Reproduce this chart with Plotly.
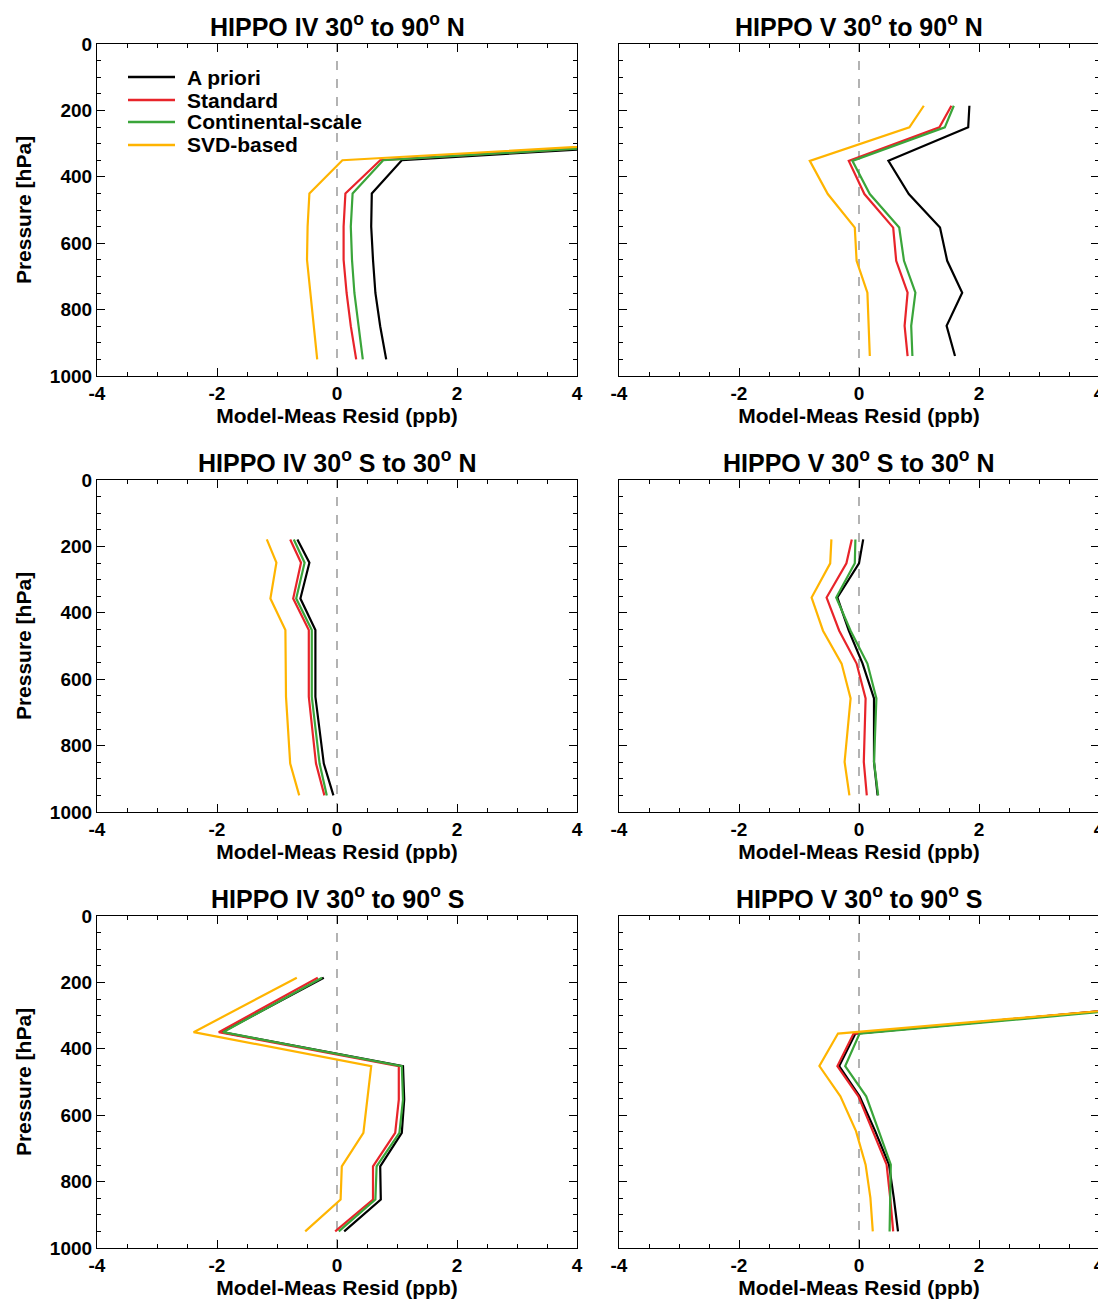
import plotly.graph_objects as go

def P(ys):
    return [round((y - 10) * 1000 / 995) for y in ys]

names = ["A priori", "Standard", "Continental-scale", "SVD-based"]
colors = ["black", "#e8242a", "#3aa53a", "#ffb400"]

titles = ["HIPPO IV 30<sup>o</sup> to 90<sup>o</sup> N", "HIPPO V 30<sup>o</sup> to 90<sup>o</sup> N",
          "HIPPO IV 30<sup>o</sup> S to 30<sup>o</sup> N", "HIPPO V 30<sup>o</sup> S to 30<sup>o</sup> N",
          "HIPPO IV 30<sup>o</sup> to 90<sup>o</sup> S", "HIPPO V 30<sup>o</sup> to 90<sup>o</sup> S"]

# Panel 1
p1 = [250, 350, 450, 550, 650, 750, 850, 950]
p1_apriori = [10.2, 1.08, 0.58, 0.57, 0.60, 0.64, 0.72, 0.82]
p1_standard = [10.0, 0.72, 0.14, 0.11, 0.11, 0.16, 0.23, 0.32]
p1_cont = [10.1, 0.77, 0.26, 0.23, 0.25, 0.29, 0.36, 0.43]
p1_svd = [9.9, 0.09, -0.46, -0.49, -0.50, -0.44, -0.39, -0.33]
# Panel 2
p2 = P([195, 260, 360, 460, 560, 660, 755, 855, 945])
p2_apriori = [1.84, 1.82, 0.49, 0.83, 1.35, 1.47, 1.72, 1.46, 1.60]
p2_standard = [1.54, 1.34, -0.17, 0.09, 0.57, 0.62, 0.81, 0.76, 0.81]
p2_cont = [1.58, 1.43, -0.11, 0.18, 0.67, 0.75, 0.94, 0.87, 0.89]
p2_svd = [1.08, 0.84, -0.82, -0.52, -0.07, -0.04, 0.14, 0.16, 0.18]
# Panel 3
p3 = P([188, 258, 365, 460, 660, 860, 955])
p3_apriori = [-0.66, -0.46, -0.61, -0.36, -0.36, -0.22, -0.06]
p3_standard = [-0.78, -0.60, -0.73, -0.47, -0.47, -0.35, -0.21]
p3_cont = [-0.72, -0.54, -0.68, -0.42, -0.42, -0.29, -0.17]
p3_svd = [-1.17, -1.01, -1.11, -0.86, -0.85, -0.78, -0.63]
# Panel 4
p4 = P([188, 260, 362, 462, 560, 665, 855, 955])
p4_apriori = [0.07, 0.00, -0.36, -0.17, 0.06, 0.25, 0.25, 0.31]
p4_standard = [-0.12, -0.21, -0.54, -0.33, -0.04, 0.11, 0.08, 0.13]
p4_cont = [-0.06, -0.07, -0.38, -0.14, 0.14, 0.29, 0.25, 0.32]
p4_svd = [-0.46, -0.48, -0.79, -0.60, -0.29, -0.14, -0.24, -0.16]
# Panel 5
p5 = P([195, 358, 460, 560, 660, 760, 860, 955])
p5_apriori = [-0.22, -1.92, 1.10, 1.12, 1.08, 0.72, 0.73, 0.12]
p5_standard = [-0.32, -1.97, 1.03, 1.03, 0.97, 0.60, 0.60, -0.03]
p5_cont = [-0.25, -1.90, 1.08, 1.10, 1.04, 0.66, 0.64, 0.03]
p5_svd = [-0.67, -2.39, 0.57, 0.51, 0.44, 0.08, 0.06, -0.53]
# Panel 6
p6 = P([260, 362, 460, 550, 655, 755, 855, 955])
p6_apriori = [6.2, -0.06, -0.33, 0.01, 0.27, 0.50, 0.58, 0.65]
p6_standard = [6.2, -0.09, -0.36, -0.01, 0.23, 0.46, 0.52, 0.57]
p6_cont = [6.4, 0.01, -0.23, 0.12, 0.33, 0.53, 0.52, 0.51]
p6_svd = [6.3, -0.35, -0.66, -0.31, -0.05, 0.11, 0.19, 0.23]

panels = [
    (p1, [p1_apriori, p1_standard, p1_cont, p1_svd]),
    (p2, [p2_apriori, p2_standard, p2_cont, p2_svd]),
    (p3, [p3_apriori, p3_standard, p3_cont, p3_svd]),
    (p4, [p4_apriori, p4_standard, p4_cont, p4_svd]),
    (p5, [p5_apriori, p5_standard, p5_cont, p5_svd]),
    (p6, [p6_apriori, p6_standard, p6_cont, p6_svd]),
]
xticks = [-4, -2, 0, 2, 4]
xticklabels = ["-4", "-2", "0", "2", "4"]
yticks = [0, 200, 400, 600, 800, 1000]

OFF = 8  # page body margin
W, H = 1098, 1295
xdoms = [((97 - OFF) / W, (577 - OFF) / W), ((619 - OFF) / W, (1099 - OFF) / W)]
rows_px = [(44 - OFF, 376 - OFF), (480 - OFF, 812 - OFF), (916 - OFF, 1248 - OFF)]
FONT = "Liberation Sans"

fig = go.Figure()
layout = {}
annotations = []
shapes = []
for i, (pres, series) in enumerate(panels):
    r, c = divmod(i, 2)
    n = i + 1
    xa = "x" if n == 1 else f"x{n}"
    ya = "y" if n == 1 else f"y{n}"
    for k in [0, 1, 2, 3]:
        fig.add_trace(go.Scatter(x=series[k], y=pres, mode="lines", name=names[k],
                                 line=dict(color=colors[k], width=2.2),
                                 showlegend=False, xaxis=xa, yaxis=ya))
    ydom = (1 - rows_px[r][1] / H, 1 - rows_px[r][0] / H)
    axcommon = dict(showline=True, linecolor="black", linewidth=1.2, mirror="ticks",
                    ticks="inside", ticklen=8, tickcolor="black", showgrid=False, zeroline=False,
                    automargin=False,
                    tickfont=dict(family=FONT, size=19, color="black", weight="bold"))
    layout["xaxis" if n == 1 else f"xaxis{n}"] = dict(
        domain=xdoms[c], anchor=ya, range=[-4, 4], tickvals=xticks, ticktext=xticklabels,
        minor=dict(dtick=0.5, ticks="inside", ticklen=4, tickcolor="black"),
        title=dict(text="Model-Meas Resid (ppb)", font=dict(family=FONT, size=21, color="black", weight="bold"), standoff=2),
        **axcommon)
    layout["yaxis" if n == 1 else f"yaxis{n}"] = dict(
        domain=ydom, anchor=xa, range=[1000, 0], tickvals=yticks,
        minor=dict(dtick=50, ticks="inside", ticklen=4, tickcolor="black"),
        showticklabels=(c == 0),
        title=dict(text="Pressure [hPa]" if c == 0 else "", font=dict(family=FONT, size=21, color="black", weight="bold"), standoff=12),
        **axcommon)
    annotations.append(dict(text=titles[i], x=(xdoms[c][0] + xdoms[c][1]) / 2, y=ydom[1],
                            xref="paper", yref="paper", xanchor="center", yanchor="bottom", yshift=1,
                            showarrow=False, font=dict(family=FONT, size=25, color="black", weight="bold")))
    shapes.append(dict(type="line", xref=xa, yref=f"{ya} domain", x0=0, x1=0, y0=0, y1=1,
                       line=dict(color="gray", width=1.2, dash="dash"), layer="below"))

# Legend (drawn manually in panel 1)
leg_y = [77, 100, 122, 145]
for k in range(4):
    yy = 1 - (leg_y[k] - OFF) / H
    shapes.append(dict(type="line", xref="paper", yref="paper", x0=(128 - OFF) / W, x1=(175 - OFF) / W,
                       y0=yy, y1=yy, line=dict(color=colors[k], width=2.5)))
    annotations.append(dict(text=names[k], x=(185 - OFF) / W, y=yy, xref="paper", yref="paper",
                            xanchor="left", yanchor="middle", showarrow=False,
                            font=dict(family=FONT, size=21, color="black", weight="bold")))

fig.update_layout(
    width=W, height=H, margin=dict(l=0, r=0, t=0, b=0, autoexpand=False),
    paper_bgcolor="white", plot_bgcolor="white", showlegend=False,
    annotations=annotations, shapes=shapes,
    **layout)
fig.write_html("out.html")
